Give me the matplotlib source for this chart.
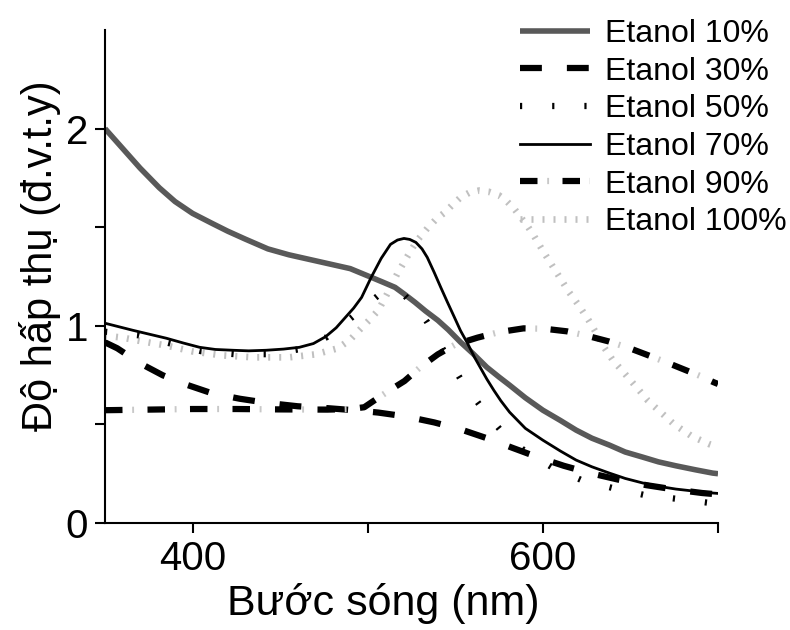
import matplotlib
matplotlib.use("Agg")
import matplotlib.pyplot as plt
from matplotlib.legend_handler import HandlerTuple

plt.rcParams['font.family'] = ['Liberation Sans', 'DejaVu Sans']

# ---- data ----
labels = ["Etanol 10%", "Etanol 30%", "Etanol 50%", "Etanol 70%", "Etanol 90%", "Etanol 100%"]

x10 = [350, 360, 370, 381, 390, 400, 411, 420, 430, 443, 455, 465, 477, 490, 502, 509, 515.6, 521, 527, 533, 540, 546, 553, 560, 568, 575, 581, 590, 600, 610, 619, 628, 638, 647, 657, 666, 676, 687, 697, 700]
y10 = [2.00, 1.90, 1.80, 1.70, 1.63, 1.57, 1.52, 1.48, 1.44, 1.39, 1.36, 1.34, 1.316, 1.29, 1.246, 1.22, 1.195, 1.16, 1.119, 1.075, 1.028, 0.98, 0.917, 0.86, 0.79, 0.74, 0.699, 0.635, 0.572, 0.52, 0.471, 0.43, 0.395, 0.36, 0.334, 0.31, 0.29, 0.27, 0.253, 0.25]

x30 = [350, 357, 370, 383, 397, 411, 427, 443.5, 460, 477.6, 492, 506, 522, 538, 553, 568, 583, 597, 612, 627, 643, 659, 675, 691, 700]
y30 = [0.916, 0.886, 0.81, 0.749, 0.70, 0.658, 0.63, 0.608, 0.592, 0.582, 0.572, 0.56, 0.54, 0.51, 0.475, 0.43, 0.38, 0.334, 0.29, 0.253, 0.22, 0.192, 0.17, 0.152, 0.145]

x50 = [350, 369, 387, 405, 424, 443, 461, 476.5, 491, 506, 514, 521, 527, 534, 543, 553, 563.8, 575.8, 589, 605, 622, 640, 658, 677, 696, 700]
y50 = [0.97, 0.952, 0.911, 0.871, 0.856, 0.856, 0.881, 0.942, 1.043, 1.154, 1.175, 1.154, 1.10, 1.018, 0.88, 0.73, 0.60, 0.471, 0.37, 0.284, 0.218, 0.177, 0.142, 0.122, 0.101, 0.098]

x70 = [350, 358, 366, 375, 385, 395, 404, 413, 423, 432, 442, 452, 461, 469, 476, 482, 487, 492, 496.5, 502, 507.7, 513, 517, 520.7, 524, 527.5, 531, 534, 538, 541.7, 545.5, 549.5, 553, 557, 561, 564.5, 568, 572, 576, 581, 590, 600, 610, 619, 628, 638, 647, 657, 666, 676, 687, 697, 700]
y70 = [1.013, 0.995, 0.977, 0.958, 0.937, 0.912, 0.891, 0.88, 0.876, 0.873, 0.876, 0.882, 0.891, 0.91, 0.945, 0.99, 1.04, 1.09, 1.144, 1.246, 1.342, 1.413, 1.435, 1.443, 1.438, 1.423, 1.39, 1.347, 1.27, 1.195, 1.12, 1.043, 0.975, 0.911, 0.84, 0.785, 0.73, 0.673, 0.62, 0.562, 0.48, 0.42, 0.365, 0.319, 0.285, 0.253, 0.226, 0.203, 0.186, 0.172, 0.161, 0.152, 0.15]

x90 = [350, 375, 400, 425, 450, 477, 490, 498, 504, 512, 521, 530, 540, 550, 562.7, 575, 589, 601, 613.7, 625, 637.5, 649, 660, 671, 681.6, 690, 697.5, 700]
y90 = [0.572, 0.575, 0.578, 0.578, 0.576, 0.575, 0.578, 0.587, 0.623, 0.67, 0.72, 0.79, 0.855, 0.905, 0.94, 0.968, 0.987, 0.985, 0.972, 0.95, 0.921, 0.888, 0.851, 0.813, 0.775, 0.745, 0.714, 0.705]

x100 = [350, 360, 372, 385, 400, 417, 435, 455, 470, 483, 490, 496.5, 501, 506, 511, 517, 523, 528, 534, 539, 544, 548, 553, 558, 563.7, 569, 575, 579, 583.5, 587, 591, 595, 600, 605, 610, 615, 620, 626, 630, 635, 640, 646, 650, 655, 660, 665, 670, 675, 680, 685, 690, 695, 700]
y100 = [0.95, 0.94, 0.92, 0.90, 0.87, 0.85, 0.84, 0.84, 0.855, 0.886, 0.93, 0.99, 1.03, 1.078, 1.16, 1.266, 1.357, 1.43, 1.494, 1.54, 1.575, 1.61, 1.651, 1.675, 1.686, 1.68, 1.661, 1.635, 1.595, 1.555, 1.509, 1.455, 1.38, 1.31, 1.24, 1.17, 1.11, 1.03, 0.97, 0.89, 0.825, 0.765, 0.724, 0.673, 0.62, 0.58, 0.54, 0.50, 0.47, 0.44, 0.42, 0.40, 0.385]

x_major = [400, 600]
x_minor = [500, 700]
y_major = [0, 1, 2]
y_minor = [0.5, 1.5]

# ---- figure ----
fig = plt.figure(figsize=(7.9, 6.3), dpi=100)
ax = fig.add_axes([105/790, 1 - 523/630, (718 - 105)/790, (523 - 30)/630])

h100, = ax.plot(x100, y100, color='#c0c0c0', lw=4.8, linestyle=(0, (0.3, 1.35)))
h10, = ax.plot(x10, y10, color='#595959', lw=4.0, solid_capstyle='butt')
h30, = ax.plot(x30, y30, color='black', lw=4.5, linestyle=(0, (3.5, 4.0)))
h50, = ax.plot(x50, y50, color='black', lw=4.5, linestyle=(0, (0.35, 4.8)))
h70, = ax.plot(x70, y70, color='black', lw=2.0)
h90a, = ax.plot(x90, y90, color='black', lw=4.5, linestyle=(0, (2.8, 4.0)))
h90b, = ax.plot(x90, y90, color='#c8c8c8', lw=4.5, linestyle=(0.4 + 6.8 - 4.75 + 6.8, (0.3, 6.5)))

ax.set_xlim(350, 700)
ax.set_ylim(0, 2.5)
ax.set_xticks(x_major)
ax.set_xticks(x_minor, minor=True)
ax.set_yticks(y_major)
ax.set_yticks(y_minor, minor=True)
ax.tick_params(which='both', direction='out', length=7, width=1.5, labelsize=29, pad=5)
for s in ['top', 'right']:
    ax.spines[s].set_visible(False)
for s in ['left', 'bottom']:
    ax.spines[s].set_linewidth(1.5)

ax.set_xlabel("Bước sóng (nm)", fontsize=31)
ax.set_ylabel("Độ hấp thụ (đ.v.t.y)", fontsize=30)
ax.xaxis.set_label_coords((383 - 105) / 613, -(603 - 523) / 493)
ax.yaxis.set_label_coords(-(105 - 40) / 613, (523 - 256) / 493)
ax.xaxis.label.set_va('center')
ax.yaxis.label.set_va('center')

leg = fig.legend([h10, h30, h50, h70, (h90a, h90b), h100], labels,
                 loc='upper left', bbox_to_anchor=(520/790, 1 - 19/630),
                 frameon=False, fontsize=23, handlelength=2.2, handletextpad=0.45,
                 labelspacing=0.24, borderpad=0, borderaxespad=0,
                 handler_map={tuple: HandlerTuple(ndivide=1)})

fig.savefig("out.png", dpi=100)
